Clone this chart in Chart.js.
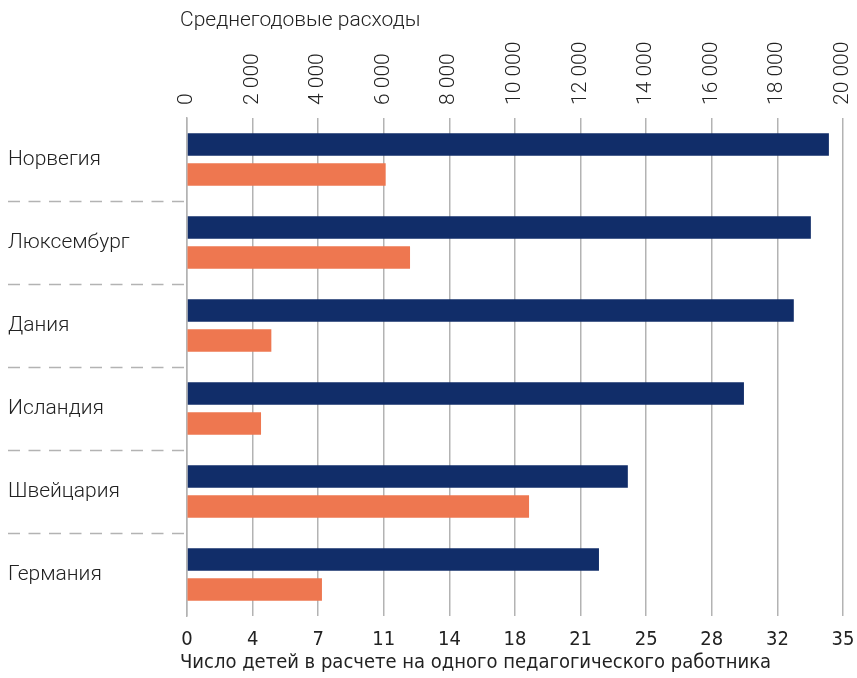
<!DOCTYPE html>
<html>
<head>
<meta charset="utf-8">
<script src="https://cdn.jsdelivr.net/npm/chart.js@4"></script>
<style>
  html, body { margin: 0; padding: 0; background: #fff; }
  #wrap { width: 857px; height: 678px; position: relative; }
</style>
</head>
<body>
<div id="wrap"><canvas id="c" width="857" height="678"></canvas></div>
<script>
const categories = ['Норвегия', 'Люксембург', 'Дания', 'Исландия', 'Швейцария', 'Германия'];
const spending = [19570, 19020, 18500, 16980, 13440, 12560];
const childrenPerTeacher = [10.6, 11.9, 4.5, 3.95, 18.25, 7.2];
const topTickLabels = ['0', '2 000', '4 000', '6 000', '8 000', '10 000', '12 000', '14 000', '16 000', '18 000', '20 000'];
const bottomTickLabels = ['0', '4', '7', '11', '14', '18', '21', '25', '28', '32', '35'];
const topTitle = 'Среднегодовые расходы';
const bottomTitle = 'Число детей в расчете на одного педагогического работника';

const NAVY = '#112d69';
const ORANGE = '#ee7750';
const GRID = '#b3b3b3';
const TEXT = '#222222';
const LIGHT = 'Roboto';
const NARROW = '"Liberation Sans Narrow", "DejaVu Sans Condensed", sans-serif';

// Axis titles drawn slightly left of the axis start, as in the original
const axisTitles = {
  id: 'axisTitles',
  afterDraw(chart) {
    const { ctx, scales } = chart;
    const top = scales.xTop, bot = scales.x;
    ctx.save();
    ctx.fillStyle = TEXT;
    ctx.textAlign = 'left';
    ctx.textBaseline = 'middle';
    ctx.font = '300 21px ' + LIGHT;
    ctx.fillText(topTitle, top.left - 7, top.top + 21);
    ctx.font = '20px ' + NARROW;
    ctx.fillText(bottomTitle, bot.left - 7, bot.bottom - 15);
    ctx.restore();
  }
};

new Chart(document.getElementById('c'), {
  type: 'bar',
  data: {
    labels: categories,
    datasets: [
      { label: topTitle, data: spending, backgroundColor: NAVY, xAxisID: 'xTop', yAxisID: 'y',
        categoryPercentage: 0.72, barPercentage: 0.75 },
      { label: bottomTitle, data: childrenPerTeacher, backgroundColor: ORANGE, xAxisID: 'x', yAxisID: 'y',
        categoryPercentage: 0.72, barPercentage: 0.75 }
    ]
  },
  plugins: [axisTitles],
  options: {
    indexAxis: 'y',
    responsive: false,
    animation: false,
    layout: { padding: { left: 8, right: 14, top: 0, bottom: 0 } },
    plugins: { legend: { display: false }, tooltip: { enabled: false } },
    scales: {
      xTop: {
        position: 'top',
        min: 0, max: 20000,
        afterBuildTicks: s => { s.ticks = topTickLabels.map((_, i) => ({ value: i * 2000 })); },
        ticks: {
          callback: (v, i) => topTickLabels[i],
          minRotation: 90, maxRotation: 90,
          padding: 13,
          labelOffset: 25,
          color: TEXT,
          font: { family: LIGHT, size: 21, weight: 300 }
        },
        grid: { display: true, drawTicks: false, color: GRID, lineWidth: 1.5 },
        border: { display: false },
        afterFit: s => { s.height = 118; s.paddingLeft = 0; s.paddingRight = 0; }
      },
      x: {
        position: 'bottom',
        min: 0, max: 35,
        afterBuildTicks: s => { s.ticks = bottomTickLabels.map((_, i) => ({ value: i * 3.5 })); },
        ticks: {
          callback: (v, i) => bottomTickLabels[i],
          maxRotation: 0, minRotation: 0, autoSkip: false,
          padding: 12,
          color: TEXT,
          font: { family: NARROW, size: 20 }
        },
        grid: { drawOnChartArea: false, drawTicks: false },
        border: { display: false },
        afterFit: s => { s.height = 62; s.paddingLeft = 0; s.paddingRight = 0; }
      },
      y: {
        position: 'left',
        ticks: {
          crossAlign: 'far',
          color: TEXT,
          padding: 0,
          font: { family: LIGHT, size: 21, weight: 300 }
        },
        grid: {
          offset: true,
          drawOnChartArea: false,
          drawTicks: true,
          tickLength: 179,
          tickWidth: 1.5,
          tickBorderDash: [12, 8.5],
          tickColor: ctx => (ctx.index === undefined || ctx.index === 0) ? 'rgba(0,0,0,0)' : GRID,
          color: GRID
        },
        border: { display: true, color: GRID, width: 1.5 },
        afterFit: s => { s.width = 179; }
      }
    }
  }
});
</script>
</body>
</html>
